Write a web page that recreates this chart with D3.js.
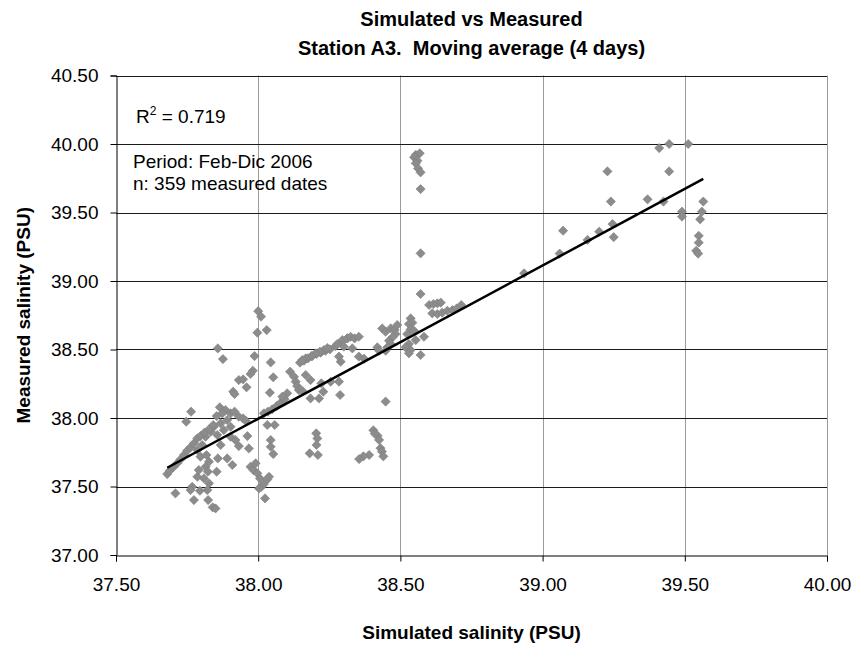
<!DOCTYPE html>
<html><head><meta charset="utf-8">
<script src="https://cdn.jsdelivr.net/npm/d3@7"></script>
<style>body{margin:0;background:#fff}svg{display:block;font-family:"Liberation Sans",Arial,sans-serif}</style>
</head><body><svg id="c" width="855" height="645"></svg>
<script>
const xTicks = [37.5, 38.0, 38.5, 39.0, 39.5, 40.0];
const yTicks = [37.0, 37.5, 38.0, 38.5, 39.0, 39.5, 40.0, 40.5];
const simulated = [
37.997,38.030,37.858,37.876,37.987,38.044,38.053,37.981,37.973,37.932,37.947,37.959,37.912,37.917,38.041,37.764,37.747,
37.865,37.885,37.874,37.854,37.903,37.917,37.932,37.947,37.956,37.891,37.868,37.844,37.903,37.879,37.833,37.856,37.815,37.903,37.920,37.932,37.962,37.967,37.868,
37.680,37.689,37.701,37.715,37.727,37.739,37.750,37.762,37.774,37.786,37.797,37.811,37.827,37.842,
37.803,37.786,37.797,37.818,37.827,37.815,37.823,37.809,37.786,37.791,37.858,37.854,37.891,37.909,37.827,37.821,37.795,37.768,37.762,37.709,37.774,37.824,37.840,37.850,
37.973,37.983,37.991,37.997,38.006,38.011,38.003,38.020,38.032,38.038,38.024,38.044,38.044,38.053,38.032,38.058,
38.020,38.034,38.049,38.065,38.079,38.093,38.102,38.085,38.112,38.126,38.132,38.137,38.147,38.161,38.175,38.190,38.205,38.220,38.237,38.252,38.272,38.292,38.313,
38.167,38.184,38.222,38.255,38.284,38.288,38.229,38.214,38.184,38.143,38.155,38.204,38.208,38.205,38.181,38.210,
38.554,38.568,38.548,38.560,38.554,38.562,38.571,38.571,38.571,38.571,
38.601,38.616,38.630,38.642,38.612,38.630,38.647,38.665,38.683,38.698,38.714,
38.536,38.542,38.530,38.536,38.548,38.524,38.554,38.530,38.518,38.536,38.530,38.583,38.571,
38.436,38.448,38.466,38.480,38.489,38.483,38.472,38.460,38.466,38.454,38.448,38.419,38.425,38.354,38.372,38.284,38.290,
38.278,38.296,38.313,38.325,38.339,38.354,38.301,38.331,38.231,38.243,38.217,38.202,38.187,38.167,38.155,
39.228,39.240,39.246,39.250,39.199,39.158,39.072,39.060,38.935,39.369,39.425,39.410,39.445,39.512,39.445,39.490,39.490,39.565,39.560,39.554,39.549,39.549,39.540,39.547,
38.448,38.405,38.420,38.425,38.410,38.430,38.435,38.440,38.390,38.370,38.355,
38.000,38.010
];
const measured = [
38.623,38.642,38.508,38.430,38.452,38.406,38.297,38.345,38.321,38.277,38.282,38.224,38.192,38.175,38.185,38.046,37.973,
38.078,38.058,38.034,38.014,38.034,38.046,38.009,37.997,37.980,37.985,37.961,37.936,37.936,37.912,37.900,37.876,37.863,37.863,37.839,37.795,37.868,37.778,37.803,
37.591,37.615,37.640,37.669,37.698,37.730,37.761,37.786,37.815,37.851,37.868,37.893,37.917,37.949,
37.803,37.766,37.718,37.730,37.681,37.644,37.608,37.559,37.571,37.620,37.705,37.608,37.705,37.657,37.523,37.474,37.469,37.498,37.474,37.450,37.401,37.401,37.348,37.340,
37.644,37.620,37.669,37.596,37.559,37.498,37.486,37.518,37.552,37.571,37.413,37.839,37.790,37.737,37.949,37.949,
38.034,38.046,38.063,38.087,38.112,38.136,38.180,38.156,38.338,38.301,38.265,38.233,38.404,38.418,38.435,38.452,38.467,38.477,38.491,38.501,38.525,38.550,38.581,
38.314,38.277,38.253,38.265,38.265,38.168,38.192,38.143,38.143,38.204,38.199,37.888,37.851,37.803,37.742,37.730,
39.920,39.932,39.903,39.878,39.859,39.822,39.793,39.671,39.202,38.905,
38.825,38.832,38.837,38.842,38.764,38.759,38.769,38.783,38.788,38.800,38.825,
38.727,38.696,38.686,38.647,38.637,38.613,38.569,38.540,38.516,38.496,38.472,38.593,38.460,
38.654,38.630,38.654,38.642,38.679,38.613,38.589,38.564,38.540,38.516,38.491,38.516,38.491,38.448,38.433,38.448,38.411,
38.540,38.569,38.581,38.593,38.581,38.593,38.521,38.508,38.496,38.511,38.484,38.472,38.452,38.435,38.423,
39.800,39.580,39.416,39.320,39.360,39.300,39.367,39.200,39.056,39.596,39.580,39.970,40.000,40.000,39.800,39.506,39.470,39.580,39.506,39.450,39.330,39.280,39.220,39.200,
38.120,37.910,37.870,37.840,37.885,37.780,37.755,37.720,37.730,37.720,37.700,
38.780,38.740
];
const trendX = [37.68, 39.565];
const trendY = [37.637, 39.745];
const titleLines = ["Simulated vs Measured", "Station A3.  Moving average (4 days)"];
const xTitle = "Simulated salinity (PSU)";
const yTitle = "Measured salinity (PSU)";
const r2Text = "0.719";
const infoLines = ["Period: Feb-Dic 2006", "n: 359 measured dates"];

const svg = d3.select("#c");
const L = 116, R = 827, T = 75.5, B = 555;
const x = d3.scaleLinear().domain([37.5, 40]).range([L, R]);
const y = d3.scaleLinear().domain([37, 40.5]).range([B, T]);

// gridlines
svg.append("g").selectAll("line").data(xTicks.slice(1)).join("line")
  .attr("x1", d => Math.round(x(d)) + 0.5).attr("x2", d => Math.round(x(d)) + 0.5)
  .attr("y1", T).attr("y2", B).attr("stroke", "#9a9a9a").attr("stroke-width", 1);
svg.append("g").selectAll("line").data(yTicks.slice(1)).join("line")
  .attr("x1", L).attr("x2", R)
  .attr("y1", d => Math.round(y(d)) + 0.5).attr("y2", d => Math.round(y(d)) + 0.5)
  .attr("stroke", "#1a1a1a").attr("stroke-width", 1);

// axes
const fmt = d3.format(".2f");
const gx = svg.append("g").attr("transform", `translate(0,${Math.round(B) + 0.5})`)
  .call(d3.axisBottom(x).tickValues(xTicks).tickFormat(fmt).tickSize(6).tickPadding(16));
const gy = svg.append("g").attr("transform", `translate(${Math.round(L) + 0.5},0)`)
  .call(d3.axisLeft(y).tickValues(yTicks).tickFormat(fmt).tickSize(6).tickPadding(12));
[gx, gy].forEach(g => {
  g.select(".domain").attr("stroke", "#000");
  g.selectAll(".tick line").attr("stroke", "#000");
  g.selectAll("text").attr("font-size", 19).attr("fill", "#000").attr("font-family", '"Liberation Sans",Arial,sans-serif');
});

// points
const diamond = "M0,-4.6L4.6,0L0,4.6L-4.6,0Z";
svg.append("g").selectAll("path").data(simulated.map((s, i) => [s, measured[i]])).join("path")
  .attr("d", diamond).attr("transform", d => `translate(${x(d[0])},${y(d[1])})`)
  .attr("fill", "#8c8c8c").attr("stroke", "#7f7f7f").attr("stroke-width", 0.6);

// trend line
svg.append("line").attr("x1", x(trendX[0])).attr("y1", y(trendY[0]))
  .attr("x2", x(trendX[1])).attr("y2", y(trendY[1]))
  .attr("stroke", "#000").attr("stroke-width", 2.5);

// titles
svg.append("text").attr("x", (L + R) / 2).attr("y", 26).attr("text-anchor", "middle")
  .attr("font-size", 20).attr("font-weight", "bold").text(titleLines[0]);
svg.append("text").attr("x", (L + R) / 2).attr("y", 55).attr("text-anchor", "middle")
  .attr("font-size", 20).attr("font-weight", "bold").attr("xml:space", "preserve")
  .style("white-space", "pre").text(titleLines[1]);
svg.append("text").attr("x", (L + R) / 2).attr("y", 639).attr("text-anchor", "middle")
  .attr("font-size", 19).attr("font-weight", "bold").text(xTitle);
svg.append("text").attr("transform", `translate(30,${(T + B) / 2}) rotate(-90)`).attr("text-anchor", "middle")
  .attr("font-size", 19).attr("font-weight", "bold").text(yTitle);

// annotations
const r2 = svg.append("text").attr("x", 136).attr("y", 123).attr("font-size", 19);
r2.append("tspan").text("R");
r2.append("tspan").attr("font-size", 12).attr("dy", -8).text("2");
r2.append("tspan").attr("dy", 8).text(" = " + r2Text);
svg.append("text").attr("x", 133).attr("y", 168).attr("font-size", 19).text(infoLines[0]);
svg.append("text").attr("x", 133).attr("y", 190).attr("font-size", 19).text(infoLines[1]);
</script></body></html>
